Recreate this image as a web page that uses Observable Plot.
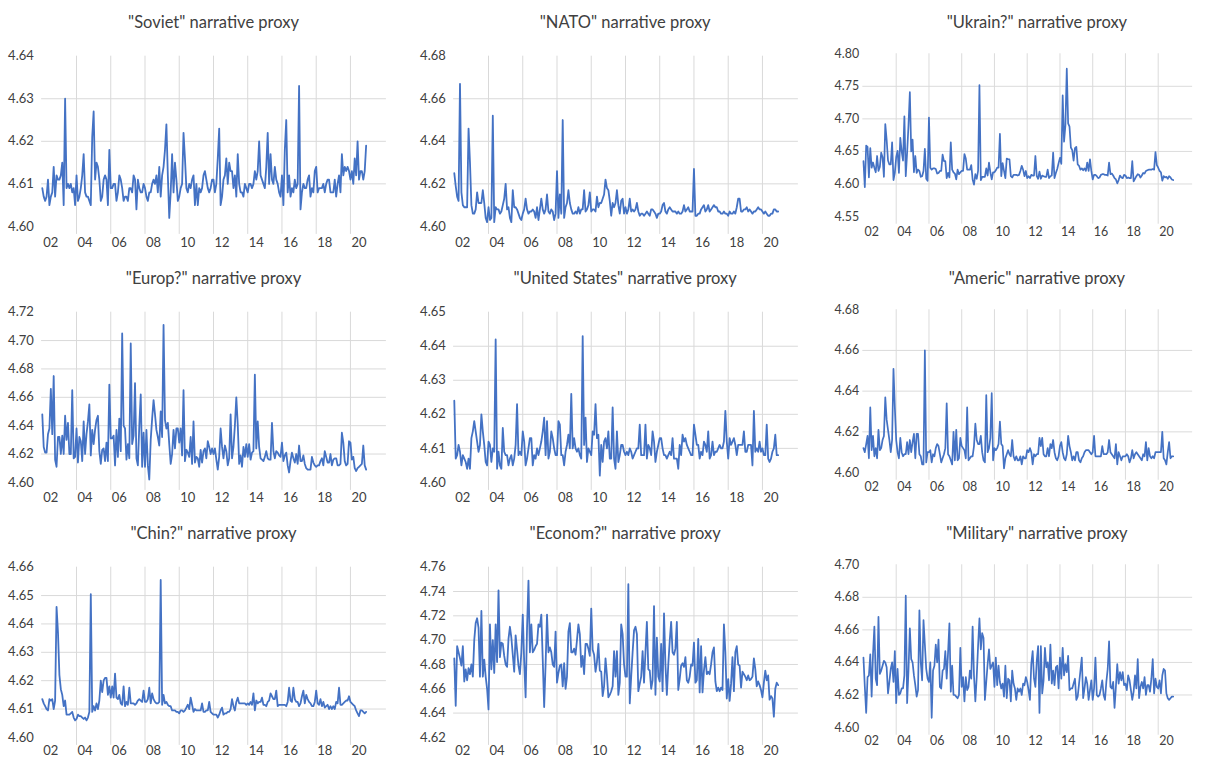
<!DOCTYPE html>
<html><head><meta charset="utf-8">
<script src="https://cdn.jsdelivr.net/npm/d3@7"></script>
<script src="https://cdn.jsdelivr.net/npm/@observablehq/plot@0.6"></script>
<style>
html,body{margin:0;padding:0;background:#fff;overflow:hidden;}
#wrap{position:relative;width:1206px;height:758px;overflow:hidden;background:#fff;font-family:Lato,"Liberation Sans",sans-serif;}
.title{position:absolute;width:400px;text-align:center;font-size:16.5px;line-height:20px;color:#404040;white-space:nowrap;}
.panel{position:absolute;}
</style></head><body><div id="wrap"></div>
<script>
// Monthly observations, Jan 2002 – Dec 2020 (one row of 12 per year)
const firstYear = 2002;

const titles = ['"Soviet" narrative proxy','"NATO" narrative proxy','"Ukrain?" narrative proxy','"Europ?" narrative proxy','"United States" narrative proxy','"Americ" narrative proxy','"Chin?" narrative proxy','"Econom?" narrative proxy','"Military" narrative proxy'];

const xTickYears = [2002,2004,2006,2008,2010,2012,2014,2016,2018,2020];
const xTickLabels = ["02","04","06","08","10","12","14","16","18","20"];
const xGridYears = [2004,2006,2008,2010,2012,2014,2016,2018,2020];

const ticksSoviet = [4.60,4.61,4.62,4.63,4.64];
const ticksNato = [4.60,4.62,4.64,4.66,4.68];
const ticksUkraine = [4.55,4.60,4.65,4.70,4.75,4.80];
const ticksEurope = [4.60,4.62,4.64,4.66,4.68,4.70,4.72];
const ticksUS = [4.60,4.61,4.62,4.63,4.64,4.65];
const ticksAmeric = [4.60,4.62,4.64,4.66,4.68];
const ticksChina = [4.60,4.61,4.62,4.63,4.64,4.65,4.66];
const ticksEconomy = [4.62,4.64,4.66,4.68,4.70,4.72,4.74,4.76];
const ticksMilitary = [4.60,4.62,4.64,4.66,4.68,4.70];

const soviet = [
4.609,4.607,4.606,4.607,4.611,4.605,4.607,4.608,4.614,4.607,4.612,4.611,
4.611,4.612,4.615,4.605,4.630,4.609,4.610,4.609,4.610,4.608,4.609,4.605,
4.612,4.606,4.607,4.609,4.612,4.617,4.608,4.607,4.607,4.606,4.605,4.621,
4.627,4.611,4.615,4.614,4.611,4.606,4.607,4.611,4.612,4.611,4.605,4.618,
4.609,4.609,4.610,4.610,4.606,4.608,4.612,4.611,4.609,4.606,4.607,4.607,
4.606,4.609,4.609,4.608,4.612,4.611,4.604,4.611,4.609,4.608,4.608,4.610,
4.609,4.607,4.606,4.608,4.608,4.610,4.611,4.610,4.612,4.608,4.614,4.607,
4.612,4.614,4.618,4.624,4.612,4.602,4.608,4.617,4.608,4.615,4.611,4.606,
4.607,4.609,4.610,4.622,4.616,4.609,4.608,4.610,4.609,4.611,4.612,4.605,
4.610,4.605,4.609,4.608,4.609,4.612,4.613,4.611,4.609,4.608,4.609,4.611,
4.611,4.608,4.610,4.616,4.623,4.605,4.607,4.611,4.612,4.616,4.610,4.615,
4.613,4.613,4.609,4.612,4.607,4.617,4.610,4.608,4.608,4.607,4.610,4.609,
4.608,4.610,4.610,4.609,4.610,4.613,4.611,4.613,4.620,4.612,4.611,4.610,
4.609,4.614,4.622,4.610,4.617,4.611,4.610,4.614,4.611,4.610,4.608,4.607,
4.612,4.605,4.618,4.625,4.608,4.612,4.607,4.609,4.608,4.611,4.609,4.610,
4.633,4.604,4.608,4.610,4.609,4.609,4.611,4.612,4.607,4.609,4.608,4.613,
4.614,4.608,4.609,4.609,4.609,4.610,4.608,4.610,4.611,4.611,4.608,4.608,
4.608,4.611,4.607,4.610,4.612,4.608,4.617,4.612,4.614,4.613,4.614,4.613,
4.611,4.613,4.610,4.616,4.612,4.620,4.611,4.613,4.613,4.611,4.613,4.619];

const nato = [
4.625,4.619,4.614,4.612,4.667,4.616,4.610,4.609,4.609,4.609,4.646,4.630,
4.610,4.606,4.606,4.608,4.616,4.611,4.611,4.611,4.617,4.611,4.604,4.602,
4.609,4.603,4.604,4.652,4.602,4.609,4.608,4.608,4.606,4.607,4.610,4.613,
4.620,4.608,4.609,4.604,4.602,4.617,4.609,4.609,4.608,4.606,4.604,4.603,
4.606,4.608,4.613,4.608,4.606,4.607,4.607,4.608,4.607,4.604,4.609,4.603,
4.608,4.613,4.608,4.606,4.608,4.615,4.607,4.606,4.608,4.607,4.603,4.606,
4.626,4.604,4.615,4.606,4.650,4.604,4.609,4.611,4.617,4.611,4.608,4.606,
4.606,4.607,4.606,4.609,4.606,4.608,4.608,4.617,4.607,4.608,4.610,4.616,
4.607,4.608,4.608,4.607,4.614,4.609,4.611,4.611,4.613,4.615,4.622,4.618,
4.617,4.612,4.605,4.611,4.609,4.611,4.617,4.610,4.606,4.612,4.613,4.606,
4.609,4.606,4.608,4.613,4.607,4.608,4.607,4.608,4.611,4.607,4.605,4.606,
4.606,4.605,4.606,4.607,4.606,4.605,4.608,4.608,4.607,4.606,4.604,4.606,
4.606,4.607,4.610,4.611,4.607,4.606,4.608,4.609,4.608,4.607,4.607,4.607,
4.606,4.607,4.606,4.606,4.607,4.610,4.607,4.608,4.609,4.607,4.607,4.607,
4.627,4.605,4.605,4.606,4.606,4.608,4.609,4.610,4.607,4.608,4.610,4.607,
4.608,4.609,4.610,4.609,4.609,4.607,4.607,4.606,4.606,4.607,4.606,4.606,
4.605,4.607,4.606,4.606,4.607,4.606,4.609,4.613,4.613,4.607,4.607,4.608,
4.608,4.609,4.607,4.608,4.607,4.606,4.607,4.607,4.608,4.609,4.608,4.608,
4.607,4.606,4.607,4.606,4.605,4.605,4.606,4.606,4.608,4.608,4.607,4.607];

const ukraine = [
4.635,4.595,4.659,4.657,4.610,4.655,4.625,4.633,4.625,4.618,4.643,4.620,
4.626,4.648,4.641,4.611,4.692,4.668,4.636,4.630,4.630,4.664,4.606,4.617,
4.641,4.651,4.617,4.671,4.650,4.636,4.704,4.612,4.648,4.690,4.741,4.650,
4.668,4.618,4.643,4.617,4.622,4.620,4.611,4.612,4.620,4.654,4.608,4.605,
4.702,4.625,4.622,4.624,4.624,4.623,4.616,4.617,4.620,4.620,4.645,4.635,
4.635,4.609,4.617,4.610,4.664,4.622,4.618,4.616,4.607,4.622,4.615,4.618,
4.620,4.620,4.646,4.639,4.622,4.622,4.622,4.629,4.607,4.599,4.615,4.608,
4.620,4.752,4.606,4.611,4.611,4.611,4.624,4.613,4.633,4.618,4.607,4.618,
4.618,4.621,4.625,4.625,4.677,4.612,4.632,4.620,4.609,4.639,4.638,4.638,
4.612,4.610,4.614,4.614,4.614,4.613,4.614,4.620,4.628,4.622,4.612,4.620,
4.609,4.612,4.609,4.614,4.613,4.613,4.643,4.612,4.608,4.619,4.608,4.613,
4.612,4.611,4.611,4.622,4.609,4.612,4.613,4.648,4.609,4.617,4.623,4.632,
4.640,4.631,4.736,4.665,4.690,4.777,4.693,4.688,4.656,4.652,4.636,4.655,
4.657,4.630,4.628,4.622,4.624,4.621,4.624,4.620,4.633,4.620,4.638,4.620,
4.607,4.614,4.614,4.612,4.609,4.610,4.614,4.615,4.615,4.614,4.614,4.613,
4.633,4.615,4.616,4.613,4.609,4.607,4.601,4.606,4.613,4.610,4.609,4.614,
4.613,4.609,4.610,4.609,4.609,4.635,4.604,4.608,4.612,4.615,4.614,4.610,
4.613,4.617,4.616,4.620,4.621,4.622,4.622,4.622,4.623,4.622,4.649,4.629,
4.625,4.620,4.618,4.605,4.612,4.610,4.611,4.608,4.612,4.610,4.607,4.606];

const europe = [
4.648,4.625,4.621,4.621,4.634,4.638,4.666,4.634,4.675,4.616,4.611,4.632,
4.632,4.620,4.633,4.620,4.647,4.630,4.642,4.620,4.620,4.665,4.617,4.618,
4.638,4.614,4.632,4.629,4.615,4.643,4.620,4.634,4.643,4.655,4.619,4.637,
4.627,4.637,4.644,4.647,4.622,4.613,4.623,4.624,4.615,4.628,4.615,4.669,
4.631,4.631,4.633,4.612,4.637,4.618,4.645,4.622,4.705,4.640,4.638,4.616,
4.627,4.617,4.698,4.627,4.633,4.670,4.617,4.612,4.640,4.662,4.611,4.635,
4.611,4.637,4.612,4.602,4.630,4.645,4.658,4.648,4.637,4.632,4.626,4.650,
4.632,4.711,4.644,4.638,4.642,4.627,4.613,4.620,4.637,4.624,4.638,4.638,
4.628,4.638,4.619,4.665,4.615,4.623,4.621,4.618,4.632,4.613,4.643,4.614,
4.618,4.617,4.611,4.623,4.614,4.622,4.624,4.617,4.629,4.625,4.620,4.624,
4.620,4.624,4.616,4.609,4.618,4.638,4.625,4.617,4.626,4.622,4.612,4.617,
4.648,4.617,4.625,4.640,4.660,4.641,4.613,4.619,4.611,4.625,4.618,4.627,
4.618,4.627,4.616,4.621,4.622,4.676,4.624,4.643,4.625,4.617,4.616,4.615,
4.618,4.622,4.617,4.616,4.616,4.642,4.622,4.617,4.622,4.621,4.619,4.618,
4.628,4.615,4.619,4.621,4.612,4.607,4.615,4.621,4.617,4.614,4.620,4.613,
4.626,4.615,4.615,4.619,4.613,4.610,4.609,4.609,4.609,4.618,4.614,4.612,
4.611,4.612,4.612,4.615,4.617,4.612,4.622,4.618,4.614,4.614,4.620,4.612,
4.616,4.617,4.617,4.612,4.612,4.613,4.635,4.628,4.615,4.612,4.613,4.629,
4.628,4.616,4.618,4.610,4.608,4.610,4.611,4.612,4.613,4.626,4.612,4.609];

const unitedStates = [
4.624,4.607,4.608,4.611,4.609,4.605,4.608,4.607,4.606,4.604,4.607,4.604,
4.613,4.615,4.618,4.615,4.612,4.609,4.611,4.620,4.615,4.611,4.606,4.605,
4.612,4.611,4.606,4.610,4.609,4.642,4.604,4.609,4.605,4.604,4.616,4.609,
4.608,4.608,4.605,4.607,4.608,4.605,4.607,4.611,4.623,4.608,4.609,4.608,
4.615,4.612,4.605,4.607,4.610,4.613,4.613,4.605,4.608,4.607,4.610,4.608,
4.610,4.612,4.615,4.619,4.608,4.618,4.607,4.609,4.615,4.613,4.610,4.608,
4.608,4.618,4.617,4.608,4.608,4.605,4.609,4.611,4.614,4.610,4.626,4.610,
4.613,4.610,4.609,4.610,4.608,4.607,4.643,4.611,4.619,4.606,4.610,4.609,
4.608,4.615,4.614,4.623,4.613,4.614,4.602,4.611,4.606,4.612,4.613,4.610,
4.615,4.607,4.607,4.622,4.607,4.604,4.615,4.606,4.608,4.611,4.611,4.609,
4.608,4.609,4.608,4.610,4.609,4.607,4.608,4.609,4.610,4.610,4.617,4.608,
4.608,4.608,4.617,4.607,4.611,4.610,4.608,4.615,4.612,4.606,4.609,4.611,
4.613,4.613,4.610,4.608,4.608,4.607,4.608,4.609,4.608,4.613,4.607,4.607,
4.607,4.604,4.611,4.608,4.614,4.612,4.613,4.611,4.610,4.609,4.608,4.608,
4.617,4.614,4.611,4.611,4.607,4.609,4.608,4.612,4.611,4.609,4.615,4.607,
4.608,4.612,4.608,4.609,4.609,4.610,4.611,4.610,4.610,4.612,4.621,4.612,
4.607,4.613,4.611,4.612,4.613,4.611,4.608,4.611,4.611,4.611,4.611,4.615,
4.609,4.609,4.611,4.611,4.611,4.605,4.621,4.609,4.610,4.609,4.612,4.609,
4.610,4.608,4.608,4.617,4.607,4.606,4.607,4.609,4.610,4.614,4.608,4.608];

const americ = [
4.612,4.610,4.614,4.618,4.607,4.632,4.611,4.618,4.608,4.612,4.607,4.621,
4.611,4.612,4.616,4.618,4.637,4.626,4.621,4.616,4.610,4.616,4.651,4.632,
4.616,4.610,4.607,4.617,4.610,4.608,4.609,4.609,4.615,4.609,4.616,4.610,
4.615,4.619,4.607,4.619,4.619,4.609,4.608,4.604,4.604,4.660,4.605,4.610,
4.610,4.611,4.605,4.609,4.608,4.612,4.614,4.613,4.609,4.605,4.607,4.609,
4.612,4.634,4.609,4.608,4.606,4.604,4.620,4.606,4.621,4.606,4.607,4.617,
4.613,4.612,4.611,4.607,4.632,4.606,4.607,4.608,4.608,4.613,4.624,4.616,
4.614,4.614,4.618,4.610,4.606,4.605,4.638,4.610,4.612,4.617,4.639,4.606,
4.612,4.611,4.612,4.614,4.625,4.614,4.613,4.602,4.607,4.609,4.611,4.609,
4.608,4.616,4.608,4.606,4.608,4.606,4.606,4.608,4.604,4.608,4.607,4.607,
4.611,4.610,4.612,4.610,4.604,4.609,4.608,4.609,4.609,4.617,4.613,4.617,
4.609,4.608,4.608,4.612,4.608,4.614,4.612,4.616,4.610,4.607,4.606,4.608,
4.613,4.615,4.610,4.607,4.606,4.609,4.618,4.613,4.610,4.606,4.608,4.606,
4.610,4.610,4.606,4.605,4.607,4.608,4.610,4.611,4.611,4.611,4.610,4.609,
4.610,4.618,4.608,4.608,4.608,4.608,4.608,4.613,4.609,4.609,4.609,4.610,
4.616,4.610,4.609,4.608,4.607,4.614,4.604,4.610,4.608,4.606,4.608,4.608,
4.608,4.609,4.608,4.605,4.607,4.611,4.607,4.609,4.610,4.609,4.608,4.607,
4.606,4.609,4.608,4.615,4.606,4.612,4.608,4.607,4.608,4.607,4.610,4.610,
4.610,4.610,4.610,4.620,4.607,4.606,4.604,4.610,4.615,4.607,4.608,4.608];

const china = [
4.6135,4.612,4.611,4.610,4.6095,4.6135,4.613,4.6135,4.610,4.613,4.646,4.637,
4.622,4.617,4.615,4.611,4.613,4.608,4.608,4.608,4.6085,4.609,4.607,4.606,
4.6065,4.608,4.6075,4.6075,4.607,4.6065,4.607,4.606,4.607,4.609,4.6505,4.609,
4.611,4.6095,4.612,4.610,4.613,4.620,4.616,4.620,4.621,4.621,4.615,4.618,
4.614,4.618,4.614,4.6225,4.614,4.6135,4.615,4.612,4.6115,4.618,4.611,4.6125,
4.6115,4.6175,4.612,4.612,4.612,4.6115,4.612,4.613,4.6135,4.613,4.6125,4.6165,
4.6125,4.6125,4.6135,4.6175,4.612,4.6155,4.6135,4.6125,4.612,4.612,4.6125,4.6555,
4.6115,4.615,4.612,4.6125,4.6115,4.611,4.611,4.6095,4.6095,4.6095,4.609,4.609,
4.6085,4.6095,4.6095,4.609,4.6095,4.6105,4.6115,4.610,4.614,4.6115,4.609,4.610,
4.6095,4.6095,4.6095,4.6095,4.612,4.609,4.609,4.6095,4.6095,4.6125,4.609,4.6085,
4.608,4.608,4.608,4.607,4.608,4.6095,4.6105,4.608,4.6085,4.6085,4.609,4.609,
4.610,4.6135,4.611,4.6095,4.6125,4.614,4.612,4.612,4.612,4.612,4.612,4.6115,
4.612,4.6115,4.6125,4.6115,4.6155,4.6095,4.613,4.612,4.6125,4.6125,4.614,4.6115,
4.6115,4.611,4.6125,4.613,4.6155,4.6145,4.6135,4.6135,4.6165,4.611,4.6115,4.6115,
4.6115,4.6115,4.6115,4.611,4.6125,4.6175,4.613,4.6125,4.6175,4.6135,4.6125,4.6125,
4.611,4.612,4.6145,4.6165,4.612,4.615,4.6135,4.6125,4.612,4.611,4.611,4.6125,
4.6165,4.612,4.6115,4.6135,4.611,4.6125,4.6105,4.611,4.6115,4.610,4.611,4.610,
4.611,4.610,4.6125,4.612,4.6175,4.6115,4.6115,4.612,4.6125,4.613,4.613,4.6145,
4.6125,4.612,4.6115,4.611,4.6095,4.6085,4.6075,4.6095,4.6095,4.609,4.6085,4.609];

const economy = [
4.685,4.646,4.695,4.690,4.685,4.679,4.695,4.666,4.676,4.667,4.677,4.672,
4.680,4.670,4.700,4.714,4.718,4.710,4.670,4.724,4.670,4.684,4.670,4.660,
4.643,4.713,4.676,4.700,4.673,4.713,4.682,4.741,4.686,4.698,4.697,4.687,
4.680,4.678,4.701,4.711,4.702,4.688,4.674,4.704,4.692,4.679,4.672,4.690,
4.721,4.682,4.653,4.710,4.749,4.690,4.713,4.690,4.692,4.695,4.697,4.713,
4.711,4.721,4.684,4.645,4.680,4.721,4.690,4.694,4.690,4.680,4.678,4.707,
4.665,4.673,4.679,4.680,4.662,4.681,4.660,4.670,4.707,4.714,4.690,4.690,
4.693,4.688,4.700,4.713,4.705,4.678,4.687,4.672,4.697,4.697,4.693,4.687,
4.726,4.692,4.688,4.674,4.682,4.697,4.675,4.674,4.654,4.662,4.685,4.671,
4.653,4.655,4.658,4.662,4.691,4.670,4.691,4.655,4.665,4.713,4.705,4.680,
4.670,4.670,4.746,4.648,4.670,4.690,4.708,4.711,4.705,4.658,4.664,4.670,
4.691,4.665,4.690,4.715,4.676,4.675,4.660,4.667,4.728,4.655,4.702,4.670,
4.666,4.697,4.658,4.722,4.680,4.655,4.680,4.699,4.715,4.690,4.688,4.693,
4.715,4.659,4.668,4.679,4.681,4.678,4.686,4.667,4.665,4.670,4.680,4.679,
4.698,4.665,4.667,4.701,4.657,4.695,4.657,4.675,4.686,4.672,4.674,4.672,
4.680,4.690,4.694,4.666,4.658,4.661,4.658,4.661,4.659,4.713,4.690,4.652,
4.668,4.650,4.664,4.686,4.658,4.690,4.695,4.680,4.679,4.661,4.674,4.672,
4.670,4.667,4.671,4.667,4.668,4.670,4.685,4.676,4.662,4.666,4.663,4.659,
4.653,4.665,4.675,4.667,4.671,4.651,4.654,4.652,4.637,4.660,4.665,4.663];

const military = [
4.643,4.625,4.609,4.631,4.632,4.645,4.619,4.645,4.662,4.630,4.626,4.668,
4.633,4.635,4.638,4.641,4.640,4.637,4.621,4.628,4.636,4.640,4.628,4.647,
4.615,4.636,4.620,4.621,4.624,4.624,4.632,4.681,4.615,4.635,4.661,4.642,
4.640,4.632,4.626,4.619,4.623,4.672,4.640,4.629,4.666,4.651,4.636,4.630,
4.628,4.640,4.606,4.635,4.638,4.651,4.640,4.654,4.625,4.624,4.635,4.636,
4.647,4.630,4.646,4.664,4.622,4.638,4.620,4.620,4.619,4.618,4.620,4.649,
4.625,4.631,4.616,4.631,4.623,4.625,4.635,4.630,4.662,4.632,4.616,4.631,
4.650,4.667,4.648,4.658,4.655,4.617,4.628,4.639,4.648,4.636,4.638,4.640,
4.625,4.643,4.626,4.638,4.628,4.624,4.627,4.619,4.638,4.618,4.630,4.629,
4.616,4.635,4.627,4.624,4.617,4.624,4.622,4.624,4.620,4.627,4.626,4.631,
4.628,4.623,4.617,4.639,4.647,4.630,4.625,4.641,4.650,4.609,4.650,4.621,
4.629,4.649,4.637,4.640,4.629,4.651,4.627,4.635,4.626,4.637,4.638,4.624,
4.643,4.630,4.649,4.632,4.639,4.634,4.644,4.623,4.624,4.624,4.627,4.630,
4.617,4.619,4.627,4.635,4.643,4.618,4.624,4.631,4.627,4.617,4.623,4.629,
4.617,4.624,4.643,4.620,4.619,4.620,4.624,4.629,4.620,4.617,4.628,4.636,
4.653,4.625,4.624,4.628,4.612,4.625,4.639,4.627,4.634,4.629,4.634,4.626,
4.627,4.623,4.632,4.629,4.623,4.617,4.622,4.632,4.624,4.642,4.618,4.625,
4.628,4.624,4.631,4.620,4.626,4.626,4.622,4.630,4.642,4.621,4.630,4.625,
4.624,4.629,4.621,4.632,4.636,4.635,4.621,4.618,4.617,4.618,4.619,4.619];

const panels = [
  {values: soviet, ticks: ticksSoviet},
  {values: nato, ticks: ticksNato},
  {values: ukraine, ticks: ticksUkraine},
  {values: europe, ticks: ticksEurope},
  {values: unitedStates, ticks: ticksUS},
  {values: americ, ticks: ticksAmeric},
  {values: china, ticks: ticksChina},
  {values: economy, ticks: ticksEconomy},
  {values: military, ticks: ticksMilitary}
];

const colStep = 411.7, rowStep = 255.5;
const yPad = [7.8, 7.8, 3.8];
const xPad = [11.5, 10.5, 8.5];
const xTickPos = xTickYears.map(y => y + 0.5);
const wrap = document.getElementById("wrap");

panels.forEach((p, k) => {
  const col = k % 3, row = Math.floor(k / 3);
  const data = p.values.map((v, i) => ({t: firstYear + i / 12, v}));
  const yMin = p.ticks[0], yMax = p.ticks[p.ticks.length - 1];

  const t = document.createElement("div");
  t.className = "title";
  t.textContent = titles[k];
  t.style.left = (13.5 + col * colStep) + "px";
  t.style.top = (12 + row * rowStep) + "px";
  wrap.appendChild(t);

  const chart = Plot.plot({
    width: 400, height: 252,
    marginLeft: 41.1, marginRight: 14.1, marginTop: 55.7, marginBottom: 26.1,
    style: {fontFamily: "Lato, 'Liberation Sans', sans-serif", fontSize: "13px", color: "#404040", background: "transparent", overflow: "visible"},
    x: {domain: [2001.96, 2022.1], ticks: xTickPos, tickSize: 0, tickPadding: xPad[row],
        tickFormat: d => xTickLabels[xTickPos.indexOf(d)], label: null},
    y: {domain: [yMin, yMax], ticks: p.ticks, tickSize: 0, tickPadding: yPad[col],
        tickFormat: d3.format(".2f"), label: null},
    marks: [
      Plot.ruleY(p.ticks.slice(1, -1), {stroke: "#d9d9d9", strokeWidth: 1, strokeOpacity: 1}),
      Plot.ruleX(xGridYears, {stroke: "#d9d9d9", strokeWidth: 1, strokeOpacity: 1, insetBottom: -8}),
      Plot.lineY(data, {x: "t", y: "v", stroke: "#4472C4", strokeWidth: 1.8, strokeLinejoin: "round"})
    ]
  });
  const holder = document.createElement("div");
  holder.className = "panel";
  holder.style.left = (col * colStep) + "px";
  holder.style.top = (row * rowStep) + "px";
  holder.appendChild(chart);
  wrap.appendChild(holder);
});
</script></body></html>
